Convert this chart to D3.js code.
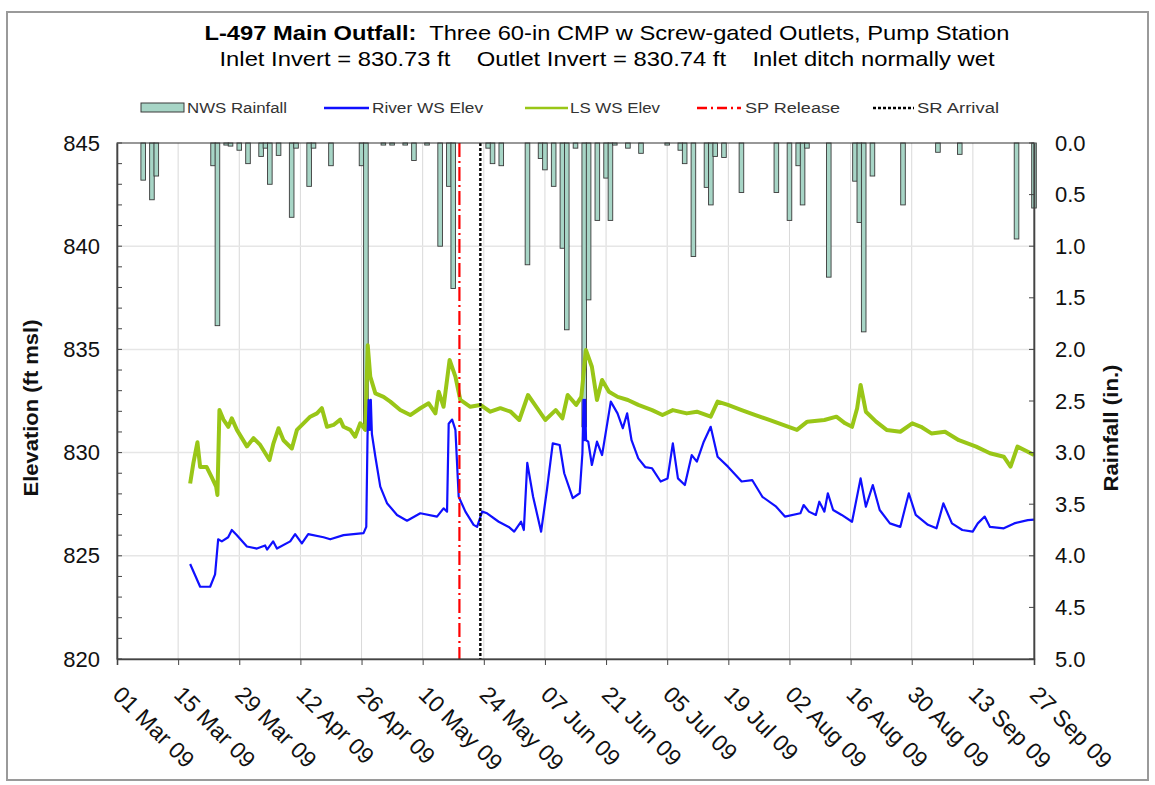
<!DOCTYPE html>
<html><head><meta charset="utf-8">
<script src="https://cdn.jsdelivr.net/npm/d3@7"></script>
<style>
body{margin:0;background:#fff;}
svg{display:block;font-family:"Liberation Sans",Arial,Helvetica,sans-serif;}
</style></head><body>
<svg id="chart" width="1155" height="785"></svg>
<script>
// ---------------- DATA ----------------
const YEAR = "2009";
const xTickDates = ["03-01","03-15","03-29","04-12","04-26","05-10","05-24","06-07","06-21","07-05","07-19","08-02","08-16","08-30","09-13","09-27"];
const xTickLabels = ["01 Mar 09","15 Mar 09","29 Mar 09","12 Apr 09","26 Apr 09","10 May 09","24 May 09","07 Jun 09","21 Jun 09","05 Jul 09","19 Jul 09","02 Aug 09","16 Aug 09","30 Aug 09","13 Sep 09","27 Sep 09"];
const elevTicks = [820, 825, 830, 835, 840, 845];
const rainTicks = [0.0, 0.5, 1.0, 1.5, 2.0, 2.5, 3.0, 3.5, 4.0, 4.5, 5.0];

// NWS daily rainfall (in.)
const rainDates = ["03-07","03-09","03-10","03-23","03-24","03-26","03-27","03-29","03-31","04-03","04-04","04-05","04-07","04-10","04-11","04-14","04-15","04-19","04-26","04-27","05-01","05-03","05-06","05-08","05-11","05-14","05-16","05-17","05-25","05-26","05-28","06-03","06-06","06-07","06-09","06-11","06-12","06-14","06-16","06-17","06-19","06-21","06-22","06-23","06-26","06-29","07-05","07-08","07-09","07-11","07-14","07-15","07-16","07-18","07-22","07-30","08-02","08-04","08-05","08-06","08-11","08-17","08-18","08-19","08-21","08-28","09-05","09-10","09-23","09-27"];
const rainValues = [0.36,0.55,0.32,0.22,1.77,0.02,0.03,0.07,0.20,0.13,0.05,0.40,0.12,0.72,0.05,0.42,0.05,0.22,0.22,2.78,0.02,0.02,0.02,0.17,0.02,1.00,0.42,1.41,0.05,0.20,0.22,1.18,0.15,0.26,0.42,1.02,1.81,0.05,2.75,1.52,0.75,0.34,0.75,0.02,0.05,0.10,0.02,0.07,0.20,1.10,0.43,0.60,0.13,0.14,0.48,0.48,0.75,0.22,0.60,0.05,1.30,0.37,0.77,1.83,0.32,0.60,0.09,0.11,0.93,0.63];

// River WS Elev (ft msl), "MM-DD HH"
const riverTimes = ["03-17 18","03-20 01","03-22 08","03-23 11","03-24 04","03-25 00","03-26 11","03-27 07","03-28 11","03-30 18","04-02 01","04-03 22","04-04 09","04-05 18","04-06 15","04-09 16","04-10 19","04-12 08","04-13 19","04-17 07","04-18 20","04-21 21","04-26 11","04-27 02","04-27 09","04-27 15","04-27 21","04-28 03","04-28 09","04-29 04","04-30 07","05-01 20","05-04 03","05-06 10","05-09 11","05-13 07","05-14 19","05-15 14","05-15 23","05-16 18","05-17 12","05-18 06","05-19 19","05-21 16","05-22 11","05-23 15","05-24 18","05-27 10","05-29 17","05-30 23","06-01 13","06-02 04","06-02 23","06-04 07","06-06 03","06-07 11","06-08 19","06-10 09","06-11 10","06-13 09","06-14 23","06-15 14","06-15 20","06-16 00","06-16 05","06-16 10","06-16 22","06-17 18","06-18 22","06-20 02","06-22 02","06-23 15","06-24 20","06-25 20","06-26 20","06-28 09","06-29 23","07-01 13","07-03 12","07-05 02","07-06 07","07-07 11","07-09 01","07-10 15","07-11 19","07-13 09","07-14 23","07-16 13","07-18 22","07-22 01","07-24 11","07-26 19","07-29 23","07-31 23","08-04 12","08-05 06","08-06 11","08-08 01","08-08 20","08-10 00","08-10 19","08-12 00","08-13 23","08-16 08","08-18 07","08-19 12","08-21 02","08-22 16","08-25 00","08-27 09","08-29 08","08-30 22","09-02 17","09-04 16","09-06 06","09-08 05","09-10 14","09-12 23","09-14 03","09-15 17","09-16 22","09-20 02","09-22 11","09-25 14","09-27 00"];
const riverElev = [824.6,823.5,823.5,824.1,825.8,825.7,825.9,826.25,826.0,825.45,825.35,825.5,825.3,825.7,825.35,825.7,826.05,825.6,826.05,825.9,825.8,826.0,826.1,826.4,830.8,832.55,831.1,832.55,830.9,829.8,828.35,827.55,826.98,826.7,827.06,826.9,827.3,827.14,831.4,831.6,831.1,827.86,827.14,826.5,826.4,827.14,827.06,826.65,826.4,826.17,826.65,826.25,829.5,827.86,826.17,828.2,830.45,830.37,829.0,827.79,828.03,829.97,832.55,830.6,832.55,830.6,830.53,829.4,830.53,829.88,832.47,831.9,831.18,831.9,830.6,829.72,829.3,829.24,828.6,828.75,830.45,828.75,828.43,829.88,829.56,830.53,831.25,829.8,829.32,828.6,828.67,827.86,827.38,826.9,827.06,827.46,827.14,826.98,827.62,827.14,828.03,827.22,826.98,826.65,828.75,827.38,828.43,827.22,826.57,826.4,828.03,826.98,826.5,826.33,827.54,826.57,826.25,826.17,826.57,826.9,826.4,826.33,826.57,826.73,826.75];

// LS WS Elev (ft msl), "MM-DD HH"
const lsTimes = ["03-17 18","03-18 12","03-19 10","03-20 01","03-21 13","03-22 17","03-23 17","03-24 00","03-24 11","03-25 09","03-26 12","03-27 07","03-28 11","03-30 18","04-01 06","04-02 19","04-04 22","04-05 20","04-07 00","04-08 03","04-10 01","04-11 05","04-12 17","04-14 06","04-15 19","04-16 22","04-18 02","04-19 14","04-21 03","04-21 21","04-23 10","04-24 13","04-25 17","04-26 21","04-27 10","04-28 00","04-29 04","05-01 01","05-02 14","05-04 21","05-07 04","05-09 11","05-11 09","05-12 22","05-13 16","05-14 19","05-16 04","05-17 12","05-18 15","05-20 22","05-23 05","05-25 12","05-27 19","05-30 04","06-01 03","06-03 03","06-04 17","06-07 02","06-09 11","06-11 00","06-12 05","06-14 04","06-15 08","06-16 09","06-17 18","06-18 22","06-20 02","06-21 16","06-23 16","06-26 00","06-28 09","07-01 13","07-03 22","07-06 07","07-09 11","07-11 19","07-14 23","07-16 13","07-18 22","07-22 01","07-25 05","07-28 09","07-31 13","08-03 17","08-06 02","08-10 00","08-12 18","08-14 18","08-16 08","08-17 12","08-18 07","08-19 12","08-21 20","08-24 06","08-27 09","08-30 03","09-01 03","09-03 12","09-06 15","09-09 19","09-13 18","09-16 22","09-20 02","09-21 15","09-23 05","09-25 14","09-27 00"];
const lsElev = [828.5,829.5,830.5,829.3,829.3,828.8,828.35,827.95,832.06,831.6,831.25,831.66,831.1,830.3,830.7,830.37,829.64,830.45,831.18,830.6,830.2,831.1,831.42,831.74,831.9,832.15,831.25,831.34,831.6,831.25,831.1,830.77,831.42,831.1,835.2,833.68,832.87,832.7,832.47,832.06,831.82,832.15,832.39,831.9,832.95,832.22,834.49,833.68,832.55,832.22,832.31,831.98,832.15,831.98,831.58,832.79,832.31,831.58,832.06,831.66,832.79,832.31,832.7,834.97,834.16,832.55,833.52,832.95,832.7,832.55,832.31,832.06,831.82,832.06,831.9,831.98,831.74,832.47,832.31,832.06,831.82,831.58,831.34,831.1,831.5,831.58,831.74,831.42,831.25,832.15,833.28,831.98,831.5,831.1,831.01,831.42,831.25,830.93,831.01,830.6,830.29,829.97,829.8,829.32,830.29,830.04,829.88];

const spReleaseTime = "05-18 10";
const srArrivalTime = "05-23 05";

const titleBold = "L-497 Main Outfall:";
const titleRest = "  Three 60-in CMP w Screw-gated Outlets, Pump Station";
const subtitle = "Inlet Invert = 830.73 ft    Outlet Invert = 830.74 ft    Inlet ditch normally wet";
const legendLabels = ["NWS Rainfall","River WS Elev","LS WS Elev","SP Release","SR Arrival"];

// ---------------- CHART ----------------
const parseDay = d3.utcParse("%Y-%m-%d");
const parseHr = d3.utcParse("%Y-%m-%d %H");
const pd = s => parseDay(YEAR + "-" + s);
const ph = s => parseHr(YEAR + "-" + s);

const svg = d3.select("#chart");
const L = 117, R = 1034, T = 143, B = 659;

const x = d3.scaleUtc().domain([pd("03-01"), pd("09-27")]).range([L, R]);
const yE = d3.scaleLinear().domain([820, 845]).range([B, T]);
const yR = d3.scaleLinear().domain([0, 5]).range([T, B]);

const C = {
  rainFill: "#a7d5c6", rainStroke: "#3a3a3a",
  river: "#1010ff", ls: "#99c617", sp: "#ff0000", sr: "#000000",
  grid: "#d9d9d9", text: "#000"
};
const FF = "Liberation Sans, Arial, sans-serif";

// outer frame
svg.append("rect").attr("x", 0).attr("y", 0).attr("width", 1155).attr("height", 785).attr("fill", "#fff");
svg.append("rect").attr("x", 7).attr("y", 12).attr("width", 1141).attr("height", 768)
  .attr("fill", "none").attr("stroke", "#9a9a9a").attr("stroke-width", 2);

// title
const t1 = svg.append("text").attr("x", 607).attr("y", 40).attr("text-anchor", "middle")
  .attr("font-size", 21).attr("fill", C.text).attr("xml:space", "preserve")
  .attr("textLength", 805).attr("lengthAdjust", "spacingAndGlyphs");
t1.append("tspan").attr("font-weight", "bold").text(titleBold);
t1.append("tspan").text(titleRest);
svg.append("text").attr("x", 607).attr("y", 66).attr("text-anchor", "middle")
  .attr("font-size", 21).attr("fill", C.text).attr("xml:space", "preserve")
  .attr("textLength", 775).attr("lengthAdjust", "spacingAndGlyphs").text(subtitle);

// gridlines
const xTicks = xTickDates.map(pd);
svg.append("g").selectAll("line").data(xTicks.slice(1, -1)).join("line")
  .attr("x1", d => x(d)).attr("x2", d => x(d)).attr("y1", T).attr("y2", B)
  .attr("stroke", C.grid).attr("stroke-width", 1);
svg.append("g").selectAll("line").data(elevTicks.slice(1, -1)).join("line")
  .attr("x1", L).attr("x2", R).attr("y1", d => yE(d)).attr("y2", d => yE(d))
  .attr("stroke", "#e6e6e6").attr("stroke-width", 1.5);

// rainfall bars
const rain = rainDates.map((d, i) => ({ t: pd(d), v: rainValues[i] }));
const bw = 4.6;
svg.append("g").selectAll("rect").data(rain).join("rect")
  .attr("x", d => x(d.t) - bw / 2).attr("y", yR(0))
  .attr("width", bw).attr("height", d => Math.max(1, yR(d.v) - yR(0)))
  .attr("fill", C.rainFill).attr("stroke", C.rainStroke).attr("stroke-width", 0.9);

// lines
const line = d3.line().x(d => x(d.t)).y(d => yE(d.v));
const ls = lsTimes.map((d, i) => ({ t: ph(d), v: lsElev[i] }));
const river = riverTimes.map((d, i) => ({ t: ph(d), v: riverElev[i] }));
svg.append("path").datum(ls).attr("d", line).attr("fill", "none")
  .attr("stroke", C.ls).attr("stroke-width", 4).attr("stroke-linejoin", "round");
svg.append("path").datum(river).attr("d", line).attr("fill", "none")
  .attr("stroke", C.river).attr("stroke-width", 2.2).attr("stroke-linejoin", "round");

// event lines
svg.append("line").attr("x1", x(ph(spReleaseTime))).attr("x2", x(ph(spReleaseTime)))
  .attr("y1", T).attr("y2", B).attr("stroke", C.sp).attr("stroke-width", 2.2)
  .attr("stroke-dasharray", "14,4,2,4");
svg.append("line").attr("x1", x(ph(srArrivalTime))).attr("x2", x(ph(srArrivalTime)))
  .attr("y1", T).attr("y2", B).attr("stroke", C.sr).attr("stroke-width", 2.4)
  .attr("stroke-dasharray", "3,2");

// plot frame
svg.append("rect").attr("x", L).attr("y", T).attr("width", R - L).attr("height", B - T)
  .attr("fill", "none").attr("stroke", "#333").attr("stroke-width", 1);

// left axis
const leftAxis = d3.axisLeft(yE).tickValues(elevTicks).tickSize(0).tickPadding(17);
const gl = svg.append("g").attr("transform", `translate(${L},0)`).call(leftAxis);
gl.select(".domain").attr("stroke", "#444").attr("stroke-width", 1.6);
gl.selectAll("text").attr("font-size", 22).attr("font-family", FF).attr("fill", "#111");
svg.append("g").selectAll("line").data(d3.range(820, 846, 1)).join("line")
  .attr("x1", L).attr("x2", L + 5).attr("y1", d => yE(d)).attr("y2", d => yE(d))
  .attr("stroke", "#444").attr("stroke-width", 1);

// right axis
const rightAxis = d3.axisRight(yR).tickValues(rainTicks).tickFormat(d3.format(".1f")).tickSize(0).tickPadding(21);
const gr = svg.append("g").attr("transform", `translate(${R},0)`).call(rightAxis);
gr.select(".domain").attr("stroke", "#444").attr("stroke-width", 1.6);
gr.selectAll("text").attr("font-size", 22).attr("font-family", FF).attr("fill", "#111");
svg.append("g").selectAll("line").data(rainTicks).join("line")
  .attr("x1", R - 5).attr("x2", R).attr("y1", d => yR(d)).attr("y2", d => yR(d))
  .attr("stroke", "#444").attr("stroke-width", 1);

// bottom axis
const bottomAxis = d3.axisBottom(x).tickValues(xTicks).tickSize(6).tickFormat((d, i) => xTickLabels[i]);
const gb = svg.append("g").attr("transform", `translate(0,${B})`).call(bottomAxis);
gb.select(".domain").attr("stroke", "#444").attr("stroke-width", 1.6);
gb.selectAll(".tick line").attr("stroke", "#444");
gb.selectAll("text").attr("font-size", 23).attr("font-family", FF).attr("fill", "#111")
  .attr("text-anchor", "start").attr("dy", 0).attr("y", 0)
  .attr("transform", "translate(-6,37) rotate(45)");

// axis titles
svg.append("text").attr("transform", "translate(38,408) rotate(-90)").attr("text-anchor", "middle")
  .attr("font-size", 20).attr("font-weight", "bold").attr("fill", "#111")
  .attr("textLength", 177).attr("lengthAdjust", "spacingAndGlyphs").text("Elevation (ft msl)");
svg.append("text").attr("transform", "translate(1118,428) rotate(-90)").attr("text-anchor", "middle")
  .attr("font-size", 20).attr("font-weight", "bold").attr("fill", "#111")
  .attr("textLength", 127).attr("lengthAdjust", "spacingAndGlyphs").text("Rainfall (in.)");

// legend
const lg = svg.append("g").attr("font-size", 14).attr("fill", "#333").attr("font-family", FF);
const ly = 108;
const legendText = (xx, w, s) => lg.append("text").attr("x", xx).attr("y", ly + 5)
  .attr("textLength", w).attr("lengthAdjust", "spacingAndGlyphs").text(s);
lg.append("rect").attr("x", 141).attr("y", ly - 5).attr("width", 43).attr("height", 9)
  .attr("fill", C.rainFill).attr("stroke", C.rainStroke).attr("stroke-width", 1);
legendText(187, 100, legendLabels[0]);
lg.append("line").attr("x1", 324).attr("x2", 369).attr("y1", ly).attr("y2", ly).attr("stroke", C.river).attr("stroke-width", 2.5);
legendText(372, 111, legendLabels[1]);
lg.append("line").attr("x1", 525).attr("x2", 568).attr("y1", ly).attr("y2", ly).attr("stroke", C.ls).attr("stroke-width", 2.5);
legendText(570, 90, legendLabels[2]);
lg.append("line").attr("x1", 697).attr("x2", 741).attr("y1", ly).attr("y2", ly).attr("stroke", C.sp).attr("stroke-width", 2.5).attr("stroke-dasharray", "10,4,2,4");
legendText(745, 95, legendLabels[3]);
lg.append("line").attr("x1", 873).attr("x2", 914).attr("y1", ly).attr("y2", ly).attr("stroke", C.sr).attr("stroke-width", 2.5).attr("stroke-dasharray", "3,2");
legendText(917, 82, legendLabels[4]);
</script>
</body></html>
